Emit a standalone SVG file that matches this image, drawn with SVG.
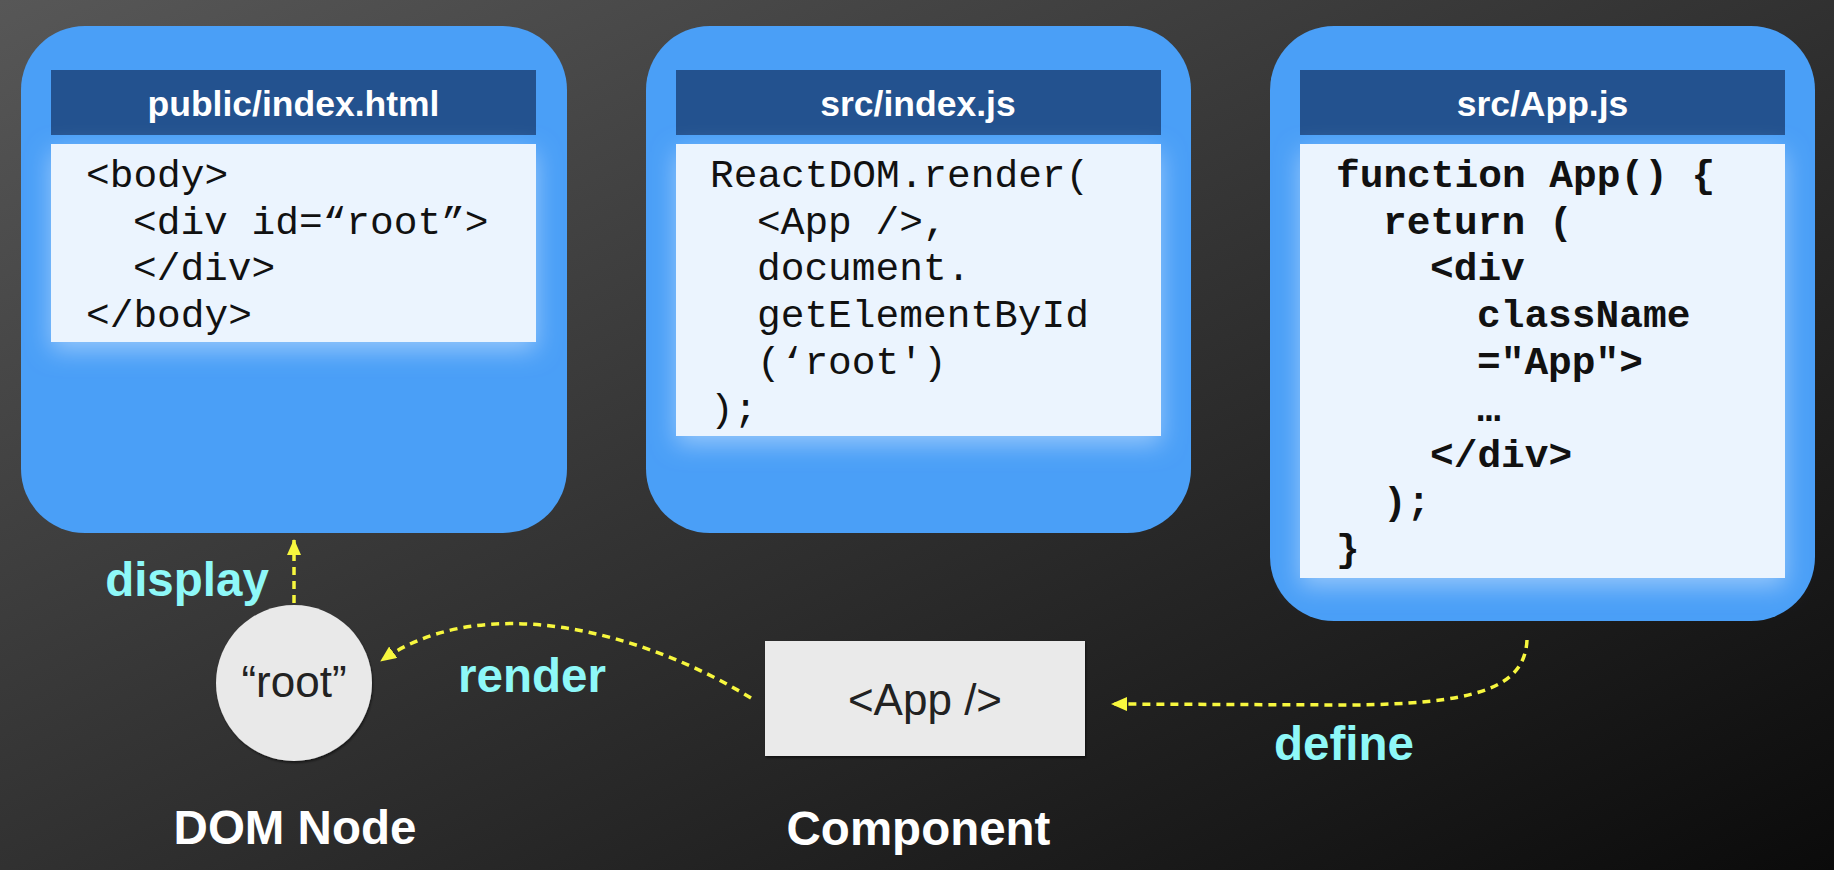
<svg xmlns="http://www.w3.org/2000/svg" width="1834" height="870" viewBox="0 0 1834 870">
<defs>
  <linearGradient id="bg" x1="0" y1="0" x2="1" y2="1">
    <stop offset="0" stop-color="#575757"/>
    <stop offset="1" stop-color="#0b0b0b"/>
  </linearGradient>
  <filter id="glow" x="-20%" y="-20%" width="140%" height="150%">
    <feGaussianBlur in="SourceAlpha" stdDeviation="12" result="b"/>
    <feOffset in="b" dy="8" result="o"/>
    <feFlood flood-color="#d6e9ff" flood-opacity="0.55"/>
    <feComposite in2="o" operator="in" result="g"/>
    <feMerge><feMergeNode in="g"/><feMergeNode in="SourceGraphic"/></feMerge>
  </filter>
  <filter id="sh" x="-10%" y="-10%" width="120%" height="130%">
    <feDropShadow dx="1" dy="2" stdDeviation="1" flood-color="#000" flood-opacity="0.5"/>
  </filter>
  <marker id="arrow" markerUnits="userSpaceOnUse" markerWidth="16" markerHeight="14" refX="15" refY="7" orient="auto" viewBox="0 0 16 14">
    <path d="M0,0 L16,7 L0,14 z" fill="#F7F73E"/>
  </marker>
</defs>
<style>
  .panel{fill:#4A9FF7}
  .hdr{fill:#23528F}
  .code{fill:#EBF4FE}
  .htitle{font-family:"Liberation Sans",Arial,sans-serif;font-weight:bold;font-size:35.5px;fill:#ffffff;text-anchor:middle}
  .mono{font-family:"Liberation Mono","Courier New",monospace;font-size:39.5px;fill:#111111}
  .monob{font-family:"Liberation Mono","Courier New",monospace;font-size:39.5px;font-weight:bold;fill:#111111}
  .lbl{font-family:"Liberation Sans",Arial,sans-serif;font-weight:bold;font-size:47.5px;fill:#ffffff;text-anchor:middle}
  .elbl{font-family:"Liberation Sans",Arial,sans-serif;font-weight:bold;font-size:47.5px;fill:#8EF8F8;text-anchor:middle}
  .ntext{font-family:"Liberation Sans",Arial,sans-serif;font-size:44px;fill:#222222;text-anchor:middle}
  .edge{fill:none;stroke:#F7F73E;stroke-width:3.5;stroke-dasharray:8 6}
</style>
<rect x="0" y="0" width="1834" height="870" fill="url(#bg)"/>

<g id="file-index-html">
  <rect class="panel" x="21" y="26" width="546" height="507" rx="64" ry="64"/>
  <rect class="hdr" x="51" y="70" width="485" height="65"/>
  <text class="htitle" x="293.5" y="116">public/index.html</text>
  <rect class="code" x="51" y="144" width="485" height="198" filter="url(#glow)"/>
  <text class="mono" x="86" y="187">&lt;body&gt;</text>
  <text class="mono" x="133" y="233.7">&lt;div id=“root”&gt;</text>
  <text class="mono" x="133" y="280.4">&lt;/div&gt;</text>
  <text class="mono" x="86" y="327.1">&lt;/body&gt;</text>
</g>

<g id="file-index-js">
  <rect class="panel" x="646" y="26" width="545" height="507" rx="64" ry="64"/>
  <rect class="hdr" x="676" y="70" width="485" height="65"/>
  <text class="htitle" x="918" y="116">src/index.js</text>
  <rect class="code" x="676" y="144" width="485" height="292" filter="url(#glow)"/>
  <text class="mono" x="710" y="187">ReactDOM.render(</text>
  <text class="mono" x="757" y="233.7">&lt;App /&gt;,</text>
  <text class="mono" x="757" y="280.4">document.</text>
  <text class="mono" x="757" y="327.1">getElementById</text>
  <text class="mono" x="757" y="373.8">(‘root')</text>
  <text class="mono" x="710" y="420.5">);</text>
</g>

<g id="file-app-js">
  <rect class="panel" x="1270" y="26" width="545" height="595" rx="64" ry="64"/>
  <rect class="hdr" x="1300" y="70" width="485" height="65"/>
  <text class="htitle" x="1542.5" y="116">src/App.js</text>
  <rect class="code" x="1300" y="144" width="485" height="434" filter="url(#glow)"/>
  <text class="monob" x="1336" y="187">function App() {</text>
  <text class="monob" x="1383" y="233.7">return (</text>
  <text class="monob" x="1430" y="280.4">&lt;div</text>
  <text class="monob" x="1477" y="327.1">className</text>
  <text class="monob" x="1477" y="373.8">="App"&gt;</text>
  <text class="monob" x="1477" y="420.5">…</text>
  <text class="monob" x="1430" y="467.2">&lt;/div&gt;</text>
  <text class="monob" x="1383" y="513.9">);</text>
  <text class="monob" x="1336" y="560.6">}</text>
</g>

<g id="dom-node">
  <circle cx="294" cy="683" r="78" fill="#E9E9E9" filter="url(#sh)"/>
  <text class="ntext" x="294" y="697">“root”</text>
  <text class="lbl" x="295" y="844">DOM Node</text>
</g>

<g id="component">
  <rect x="765" y="641" width="320" height="115" fill="#EAEAEA" filter="url(#sh)"/>
  <text class="ntext" x="925" y="715">&lt;App /&gt;</text>
  <text class="lbl" x="918.5" y="845">Component</text>
</g>

<g id="connectors">
  <path class="edge" d="M294 603 L294 540" marker-end="url(#arrow)"/>
  <text class="elbl" x="187" y="596">display</text>
  <path class="edge" d="M751 698 C640 630 480 590 381 661" marker-end="url(#arrow)"/>
  <text class="elbl" x="532" y="692">render</text>
  <path class="edge" d="M1527 640 C1525 690 1470 704 1350 705 L1112 704" marker-end="url(#arrow)"/>
  <text class="elbl" x="1344" y="760">define</text>
</g>
</svg>
